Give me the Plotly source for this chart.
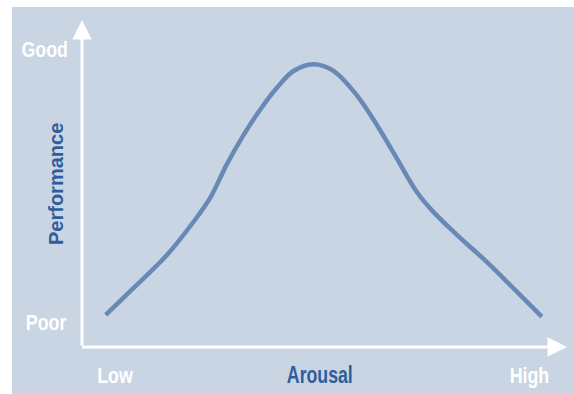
import plotly.graph_objects as go

# Data: arousal (0 = low, 100 = high) vs performance (0 = poor, 100 = good)
arousal = [4.9, 10.6, 17.5, 23.0, 26.4, 29.8, 33.3, 36.7, 40.1, 43.6, 47.7,
           51.7, 56.6, 60.8, 64.9, 69.0, 72.4, 77.3, 83.4, 89.6, 94.8]
performance = [9.8, 18.0, 28.1, 38.3, 45.5, 55.7, 64.8, 72.5, 79.1, 84.4, 86.5,
               84.6, 77.1, 67.9, 57.7, 47.5, 41.4, 34.3, 26.1, 17.0, 9.3]
y_labels = ["Poor", "Good"]
x_labels = ["Low", "High"]
x_title = "Arousal"
y_title = "Performance"

BG = "#c9d5e3"
CURVE = "#6889b6"
TITLE_C = "#2f5e9c"
FONT = "Liberation Sans, Arial, sans-serif"

fig = go.Figure()
fig.add_trace(go.Scatter(x=arousal, y=performance, mode="lines",
                         line=dict(color=CURVE, width=4.5, shape="spline", smoothing=1.0),
                         hoverinfo="skip"))

L, R, T, B = 82, 7, 20, 47
W, H = 574, 394
pw, ph = W - L - R, H - T - B

def px(xp):
    return (xp - L) / pw

def py(yp):
    return (H - B - yp) / ph

shapes = [dict(type="rect", xref="paper", yref="paper", layer="below",
               x0=px(12), x1=px(W + 2), y0=py(H + 2), y1=py(7),
               fillcolor=BG, line=dict(width=0))]

annotations = [
    dict(x=0, y=100, ax=0, ay=0, xref="x", yref="y", axref="x", ayref="y",
         showarrow=True, arrowhead=2, arrowsize=1.3, arrowwidth=3,
         arrowcolor="white", text="", standoff=0, startstandoff=0),
    dict(x=100, y=0, ax=-0.3, ay=0, xref="x", yref="y", axref="x", ayref="y",
         showarrow=True, arrowhead=2, arrowsize=1.3, arrowwidth=3,
         arrowcolor="white", text="", standoff=0, startstandoff=0),
]

def label(text, xp, yp, color="white", size=22, angle=0):
    annotations.append(dict(x=px(xp), y=py(yp), xref="paper", yref="paper",
                            text=f"<b>{text}</b>", showarrow=False,
                            font=dict(color=color, size=size, family=FONT),
                            textangle=angle, xanchor="center", yanchor="middle"))

label(y_labels[1], 44, 49)          # index 2
label(y_labels[0], 46, 322)         # index 3
label(x_labels[0], 115, 375)        # index 4
label(x_labels[1], 529, 375)        # index 5
label(x_title, 320, 375, color=TITLE_C, size=23)   # index 6
label(y_title, 56, 184, color=TITLE_C, size=20, angle=-90)  # index 7

fig.update_layout(
    width=W, height=H,
    margin=dict(l=L, r=R, t=T, b=B),
    paper_bgcolor="white", plot_bgcolor=BG,
    showlegend=False,
    xaxis=dict(range=[0, 100], visible=False, fixedrange=True),
    yaxis=dict(range=[0, 100], visible=False, fixedrange=True),
    shapes=shapes, annotations=annotations,
)

fig.write_html("out.html", config=dict(displayModeBar=False))

# page CSS: no body margin; narrow (condensed) look for the corner labels
css = ("html,body{margin:0;padding:0;overflow:hidden}"
       ".annotation[data-index='2'] .annotation-text,"
       ".annotation[data-index='3'] .annotation-text,"
       ".annotation[data-index='4'] .annotation-text,"
       ".annotation[data-index='5'] .annotation-text"
       "{transform-box:fill-box;transform-origin:center;transform:scaleX(0.81)}"
       ".annotation[data-index='6'] .annotation-text"
       "{transform-box:fill-box;transform-origin:center;transform:scaleX(0.77)}")
with open("out.html", encoding="utf-8") as f:
    html = f.read()
html = html.replace("<head>", "<head><style>" + css + "</style>", 1)
with open("out.html", "w", encoding="utf-8") as f:
    f.write(html)
